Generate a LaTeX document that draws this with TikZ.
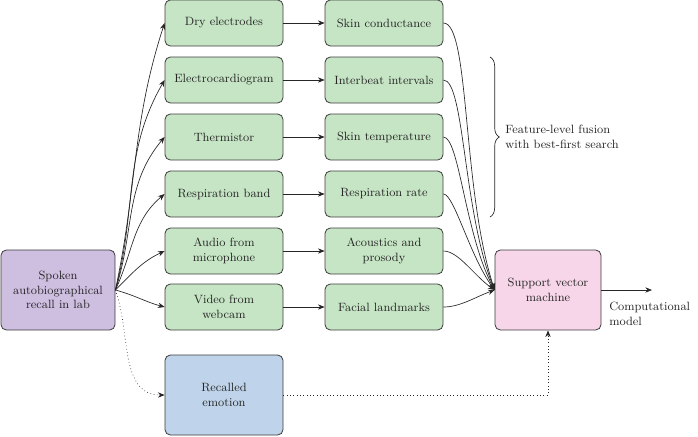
\documentclass[tikz,border=0pt]{standalone}
\usepackage{amsmath}
\usepackage{tikz}
\usetikzlibrary{arrows.meta,decorations.pathreplacing}

\definecolor{sensorgreen}{RGB}{198,229,197}
\definecolor{recallpurple}{RGB}{206,190,224}
\definecolor{emotionblue}{RGB}{191,212,234}
\definecolor{svmpink}{RGB}{246,214,232}
\definecolor{edgegray}{RGB}{60,60,60}

\begin{document}
\begin{tikzpicture}[x=0.75pt,y=-0.75pt,
    box/.style={draw=edgegray,line width=0.6pt,rounded corners=4pt,align=center,
        text=black!85,font=\small,inner sep=2pt,minimum width=88.5pt,minimum height=34.5pt},
    tallbox/.style={box,minimum height=60pt},
    arr/.style={-{Stealth[length=5pt,width=4pt]},line width=0.5pt,black!85},
    fuse/.style={arr,out=0,out looseness=0.25,in looseness=1}]
    \useasboundingbox (0,0) rectangle (698,436);

    \node [tallbox,fill=recallpurple,minimum width=85.5pt] (recall) at (58,290) {Spoken\\autobiographical\\recall in lab};

    \node [box,fill=sensorgreen] (dry) at (224,23) {Dry electrodes};
    \node [box,fill=sensorgreen] (ecg) at (224,80) {Electrocardiogram};
    \node [box,fill=sensorgreen] (therm) at (224,137) {Thermistor};
    \node [box,fill=sensorgreen] (resp) at (224,194) {Respiration band};
    \node [box,fill=sensorgreen] (audio) at (224,251) {Audio from\\microphone};
    \node [box,fill=sensorgreen] (video) at (224,307) {Video from\\webcam};

    \node [box,fill=sensorgreen] (skinc) at (384,23) {Skin conductance};
    \node [box,fill=sensorgreen] (ibi) at (384,80) {Interbeat intervals};
    \node [box,fill=sensorgreen] (skint) at (384,137) {Skin temperature};
    \node [box,fill=sensorgreen] (resprate) at (384,194) {Respiration rate};
    \node [box,fill=sensorgreen] (acoustics) at (384,251) {Acoustics and\\prosody};
    \node [box,fill=sensorgreen] (face) at (384,307) {Facial landmarks};

    \node [tallbox,fill=emotionblue] (emotion) at (224,395) {Recalled\\emotion};
    \node [tallbox,fill=svmpink,minimum width=79.5pt] (svm) at (548,290) {Support vector\\machine};

    \draw [arr] (recall.east) to[out=78,in=-108] (dry.west);
    \draw [arr] (recall.east) to[out=75,in=-120] (ecg.west);
    \draw [arr] (recall.east) to[out=72,in=-130] (therm.west);
    \draw [arr] (recall.east) to[out=65,in=-140] (resp.west);
    \draw [arr] (recall.east) to[out=45,in=-155] (audio.west);
    \draw [arr] (recall.east) to[out=-15,in=165] (video.west);
    \draw [arr,dotted] (recall.east) to[out=-70,in=180] (emotion.west);

    \draw [arr] (dry) -- (skinc);
    \draw [arr] (ecg) -- (ibi);
    \draw [arr] (therm) -- (skint);
    \draw [arr] (resp) -- (resprate);
    \draw [arr] (audio) -- (acoustics);
    \draw [arr] (video) -- (face);

    \draw [fuse] (skinc.east) to[in=108] (svm.west);
    \draw [fuse] (ibi.east) to[in=112] (svm.west);
    \draw [fuse] (skint.east) to[in=118] (svm.west);
    \draw [fuse] (resprate.east) to[in=126] (svm.west);
    \draw [fuse,out looseness=0.6] (acoustics.east) to[in=145] (svm.west);
    \draw [fuse,out looseness=0.8] (face.east) to[in=-160] (svm.west);

    \draw [arr,dotted] (emotion.east) -- (svm.south |- emotion.east) -- (svm.south);

    \coordinate (cm) at (652,290);
    \draw [arr] (svm.east) -- (cm);
    \node [anchor=north west,align=left,font=\small,text=black!85,inner sep=0pt] (cmlabel) at (609,302) {Computational\\model};

    \draw [decorate,decoration={brace,amplitude=7pt},line width=0.5pt,black!85] (490,57) -- (490,217)
        node [midway,anchor=west,xshift=8pt,align=left,font=\small,text=black!85] (fusion) {Feature-level fusion\\with best-first search};
\end{tikzpicture}
\end{document}
